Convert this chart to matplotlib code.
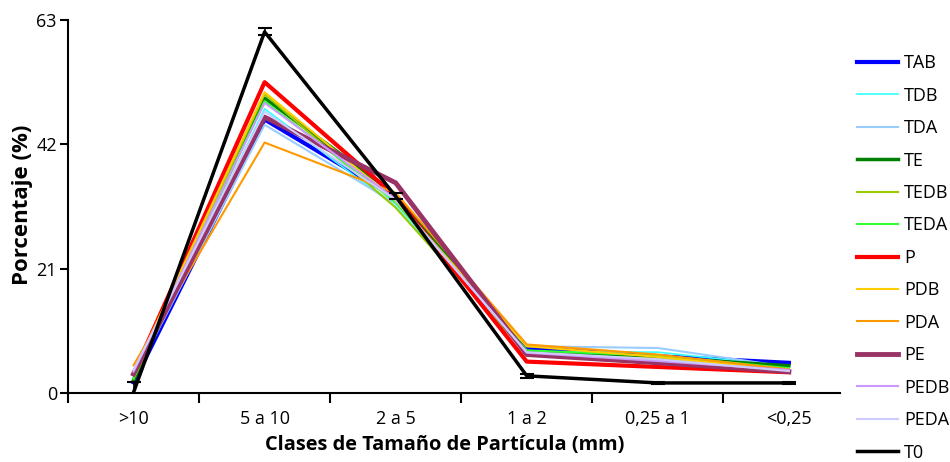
import matplotlib
matplotlib.use("Agg")
import matplotlib.pyplot as plt
from matplotlib.lines import Line2D

plt.rcParams['font.family'] = ['Open Sans', 'DejaVu Sans']

categories = ['>10', '5 a 10', '2 a 5', '1 a 2', '0,25 a 1', '<0,25']

TAB = [1.8, 46.2, 33.0, 7.6, 6.2, 5.1]
TDB = [2.3, 48.0, 31.5, 7.0, 6.9, 4.5]
TDA = [2.6, 45.3, 32.0, 7.9, 7.6, 4.4]
TE = [2.2, 49.8, 33.5, 7.0, 6.0, 4.6]
TEDB = [2.4, 50.5, 31.3, 6.6, 5.8, 4.0]
TEDA = [2.5, 49.3, 32.2, 7.2, 6.3, 4.2]
P = [3.3, 52.5, 33.2, 5.3, 4.4, 3.5]
PDB = [3.6, 50.8, 32.5, 7.9, 6.1, 3.8]
PDA = [4.7, 42.3, 33.8, 8.2, 6.5, 4.0]
PE = [3.2, 46.6, 35.5, 6.5, 5.1, 3.6]
PEDB = [3.6, 49.0, 32.8, 6.8, 5.4, 3.9]
PEDA = [3.9, 47.5, 32.6, 6.9, 5.7, 3.7]
T0 = [0.1, 61.0, 33.2, 2.9, 1.7, 1.7]
T0_err = [1.8, 0.6, 0.5, 0.3, 0.2, 0.2]

series = [
    ('TAB', TAB, '#0000FF', 3.0),
    ('TDB', TDB, '#33FFFF', 1.2),
    ('TDA', TDA, '#99CCFF', 1.5),
    ('TE', TE, '#008000', 2.5),
    ('TEDB', TEDB, '#99CC00', 1.5),
    ('TEDA', TEDA, '#33FF33', 1.5),
    ('P', P, '#FF0000', 3.0),
    ('PDB', PDB, '#FFCC00', 1.5),
    ('PDA', PDA, '#FF9900', 1.5),
    ('PE', PE, '#993366', 3.5),
    ('PEDB', PEDB, '#CC99FF', 1.5),
    ('PEDA', PEDA, '#CCCCFF', 1.5),
]

fig = plt.figure(figsize=(9.5, 4.62), dpi=100)
ax = fig.add_axes([68 / 950, 1 - 393 / 462, (840 - 68) / 950, (393 - 20) / 462])

x = list(range(len(categories)))
handles = []
for name, vals, color, lw in series:
    line, = ax.plot(x, vals, color=color, linewidth=lw, label=name)
    handles.append(line)
ax.errorbar(x, T0, yerr=T0_err, color='black', linewidth=2.5, capsize=5,
            elinewidth=1.2, capthick=1.5)
handles.append(Line2D([], [], color='black', linewidth=2.5, label='T0'))

ax.set_xlim(-0.5, 5.39)
ax.set_ylim(0, 63)
ax.set_yticks([0, 21, 42, 63])
ax.set_xticks(x)
ax.set_xticklabels(categories)
ax.set_xticks([i + 0.5 for i in range(-1, 5)], minor=True)
ax.tick_params(axis='x', which='major', length=0, pad=12, labelsize=13)
ax.tick_params(axis='x', which='minor', length=7, width=1.5, direction='out')
ax.tick_params(axis='y', length=6, width=1.5, direction='out', labelsize=13, pad=2)

for s in ['top', 'right']:
    ax.spines[s].set_visible(False)
for s in ['left', 'bottom']:
    ax.spines[s].set_linewidth(1.5)

fig.text(445 / 950, 1 - 450 / 462, 'Clases de Tamaño de Partícula (mm)', fontsize=14.4,
         fontweight='bold', ha='center', va='baseline')
fig.text(23 / 950, 1 - 205 / 462, 'Porcentaje (%)', rotation=90, fontsize=16,
         fontweight='bold', ha='center', va='center')

fig.legend(handles=handles, loc='upper left', bbox_to_anchor=(850 / 950, 1 - 47 / 462),
           frameon=False, fontsize=13, handlelength=2.25, handletextpad=0.33,
           labelspacing=0.80, borderaxespad=0)

plt.savefig('out.png', dpi=100)
